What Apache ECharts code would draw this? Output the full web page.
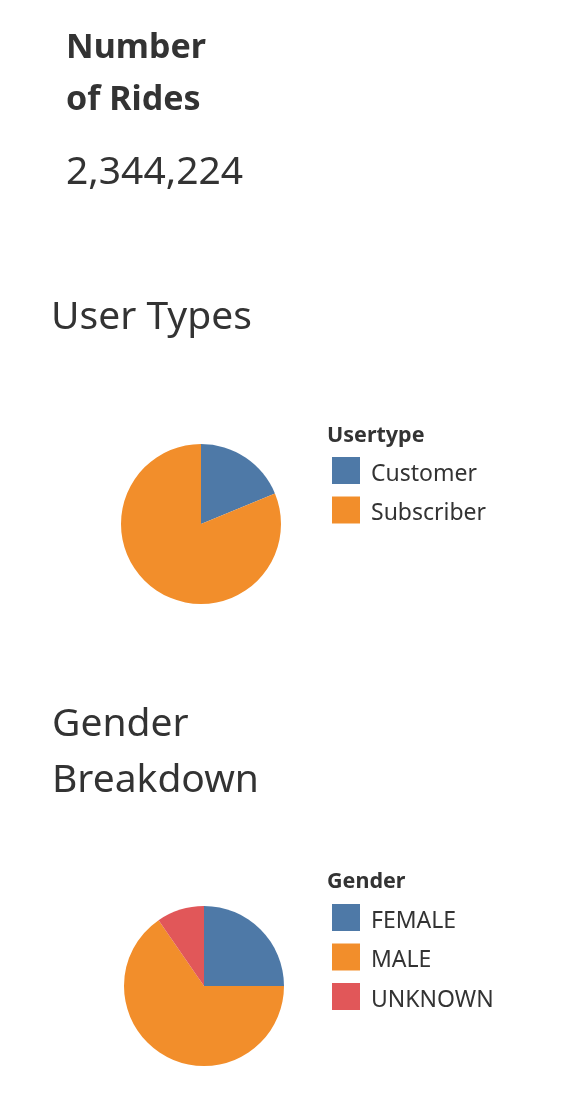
<!DOCTYPE html>
<html>
<head>
<meta charset="utf-8">
<script src="https://cdn.jsdelivr.net/npm/echarts@6/dist/echarts.min.js"></script>
<style>
html,body{margin:0;padding:0;background:#fff;}
#chart{width:562px;height:1102px;}
</style>
</head>
<body>
<div id="chart"></div>
<script>
const totalRides = 2344224;
const userTypes = ['Customer', 'Subscriber'];
const userTypeRides = [440000, 1904224];
const genders = ['FEMALE', 'MALE', 'UNKNOWN'];
const genderRides = [586000, 1533000, 225224];
const palette = ['#4e79a7', '#f28e2b', '#e15759'];

const FONT = '"Noto Sans", sans-serif';
const TXT = '#333333';

const chart = echarts.init(document.getElementById('chart'), null, {renderer: 'canvas'});

function txt(text, x, y, size, weight) {
  return {
    type: 'text', left: x, top: y,
    style: {text: text, fontFamily: FONT, fontSize: size, fontWeight: weight || 'normal', fill: TXT}
  };
}

const legendBase = {
  orient: 'vertical', left: 332, padding: 0, icon: 'rect',
  itemWidth: 28, itemHeight: 27, itemGap: 11,
  formatter: name => '{a|' + name + '}',
  textStyle: {
    fontFamily: FONT, fontSize: 23, color: TXT,
    rich: {a: {fontFamily: FONT, fontSize: 23, color: TXT, padding: [7, 0, 0, 6]}}
  },
  selectedMode: false
};

const option = {
  backgroundColor: '#ffffff',
  animation: false,
  graphic: [
    txt('Number', 66, 31, 34, 'bold'),
    txt('of Rides', 66, 83, 34, 'bold'),
    txt(totalRides.toLocaleString('en-US'), 66, 153, 39),
    txt('User Types', 51, 298, 39),
    txt('Usertype', 327, 425, 21.5, 'bold'),
    txt('Gender', 52, 705, 39),
    txt('Breakdown', 52, 761, 39),
    txt('Gender', 327, 871, 21.5, 'bold')
  ],
  legend: [
    Object.assign({}, legendBase, {data: userTypes, top: 457}),
    Object.assign({}, legendBase, {data: genders, top: 904})
  ],
  series: [
    {
      type: 'pie', center: [201, 524], radius: 80, startAngle: 90, clockwise: true,
      color: [palette[0], palette[1]],
      label: {show: false}, labelLine: {show: false}, silent: true,
      itemStyle: {borderWidth: 0},
      data: userTypes.map((n, i) => ({name: n, value: userTypeRides[i]}))
    },
    {
      type: 'pie', center: [204, 986], radius: 80, startAngle: 90, clockwise: true,
      color: palette,
      label: {show: false}, labelLine: {show: false}, silent: true,
      itemStyle: {borderWidth: 0},
      data: genders.map((n, i) => ({name: n, value: genderRides[i]}))
    }
  ]
};
chart.setOption(option);
</script>
</body>
</html>
